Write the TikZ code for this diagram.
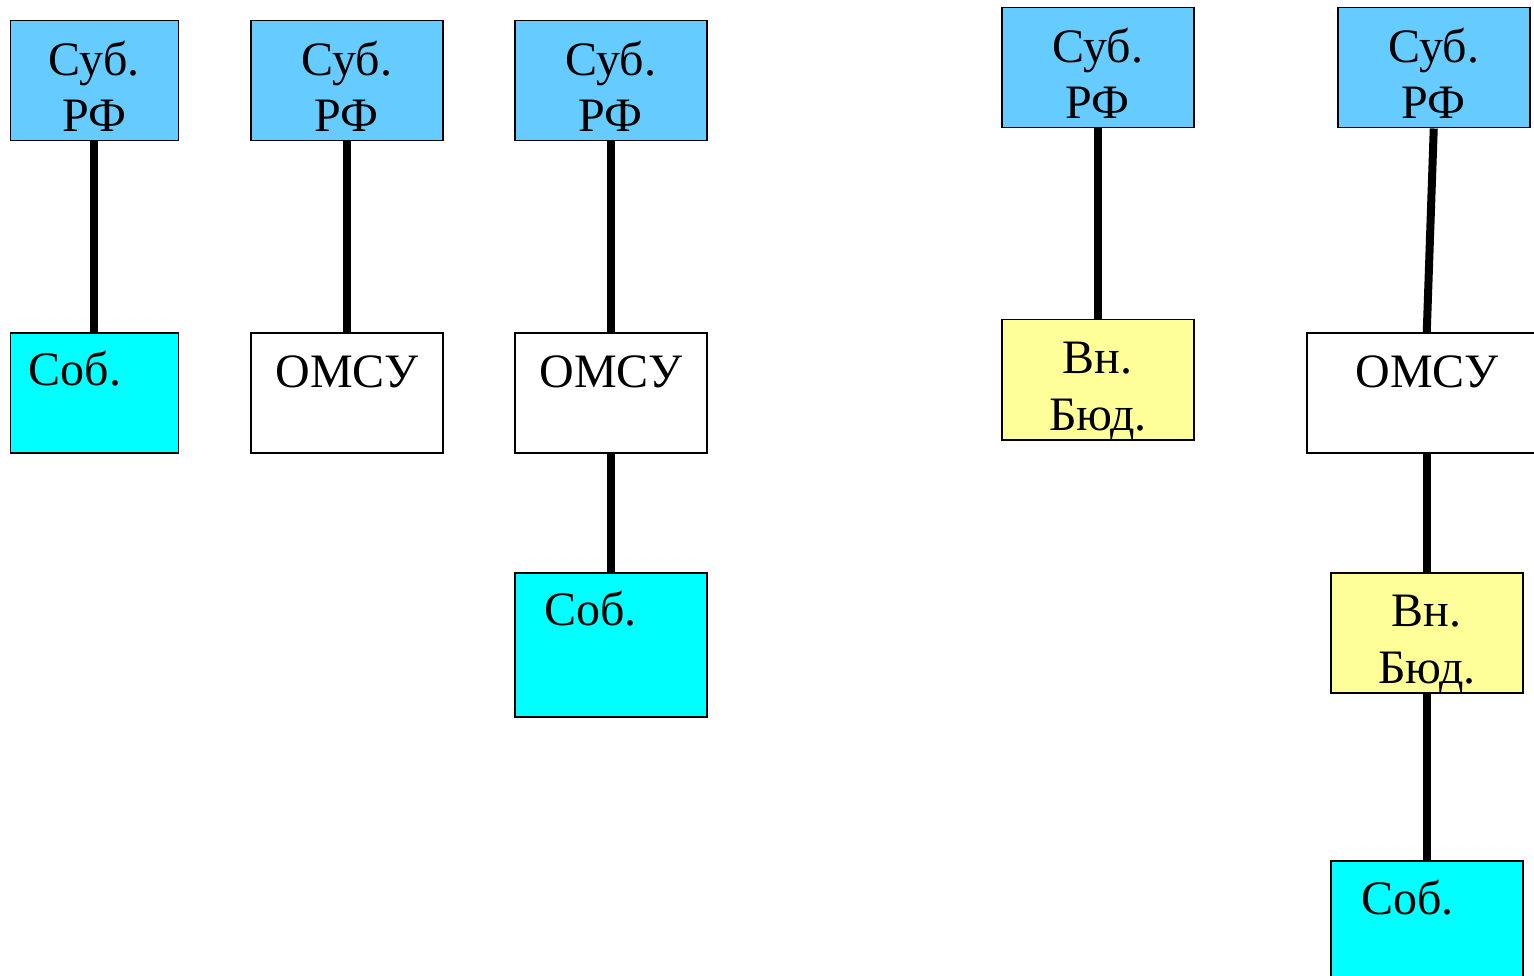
\documentclass[tikz,border=0pt]{standalone}
\usepackage{fontspec}
\setmainfont{Liberation Serif}
\definecolor{subjblue}{HTML}{66CCFF}
\definecolor{owncyan}{HTML}{00FFFF}
\definecolor{budyellow}{HTML}{FFFF99}
\tikzset{
  box/.style={draw=black, line width=1.5pt, inner sep=0pt, anchor=north west,
              minimum width=192pt, minimum height=120pt},
  subj/.style={box, fill=subjblue},
  own/.style={box, fill=owncyan},
  muni/.style={box, fill=white},
  bud/.style={box, fill=budyellow},
  lbl/.style={anchor=base, inner sep=0pt, font=\fontsize{48}{56}\selectfont},
  lblw/.style={lbl, anchor=base west},
  link/.style={line width=8pt},
}
\begin{document}
\begin{tikzpicture}[x=1pt, y=-1pt]
\useasboundingbox (0,0) rectangle (1534,976);

% column 1
\node[subj, minimum width=168pt] (s1) at (9.5,20) {};
\node[own, minimum width=168pt] (c1) at (9.5,332) {};
% column 2
\node[subj] (s2) at (250,20) {};
\node[muni] (m2) at (250,332) {};
% column 3
\node[subj] (s3) at (514,20) {};
\node[muni] (m3) at (514,332) {};
\node[own, minimum height=144pt] (c3) at (514,572) {};
% column 4
\node[subj] (s4) at (1001,7) {};
\node[bud] (b4) at (1001,319) {};
% column 5
\node[subj] (s5) at (1337,7) {};
\node[muni, minimum width=240pt] (m5) at (1306,332) {};
\node[bud] (b5) at (1330,572) {};
\node[own, minimum height=150pt] (c5) at (1330,860) {};

% labels
\foreach \b in {s1,s2,s3,s4,s5}{
  \node[lbl] (\b-l1) at ([yshift=-56pt]\b.north) {Суб.};
  \node[lbl] (\b-l2) at ([yshift=-112pt]\b.north) {РФ};
}
\foreach \b in {m2,m3,m5}{
  \node[lbl] (\b-l) at ([yshift=-55pt]\b.north) {ОМСУ};
}
\foreach \b in {b4,b5}{
  \node[lbl] (\b-l1) at ([yshift=-54pt]\b.north) {Вн.};
  \node[lbl] (\b-l2) at ([yshift=-111pt]\b.north) {Бюд.};
}
\node[lblw] (c1-l) at ([xshift=19pt,yshift=-53pt]c1.north west) {Соб.};
\node[lblw] (c3-l) at ([xshift=30pt,yshift=-53pt]c3.north west) {Соб.};
\node[lblw] (c5-l) at ([xshift=31pt,yshift=-54pt]c5.north west) {Соб.};

% connectors
\draw[link] (s1.south) -- (c1.north);
\draw[link] (s2.south) -- (m2.north);
\draw[link] (s3.south) -- (m3.north);
\draw[link] (m3.south) -- (c3.north);
\draw[link] (s4.south) -- (b4.north);
\draw[link] (s5.south) -- (m5.north);
\draw[link] (m5.south) -- (b5.north);
\draw[link] (b5.south) -- (c5.north);
\end{tikzpicture}
\end{document}
